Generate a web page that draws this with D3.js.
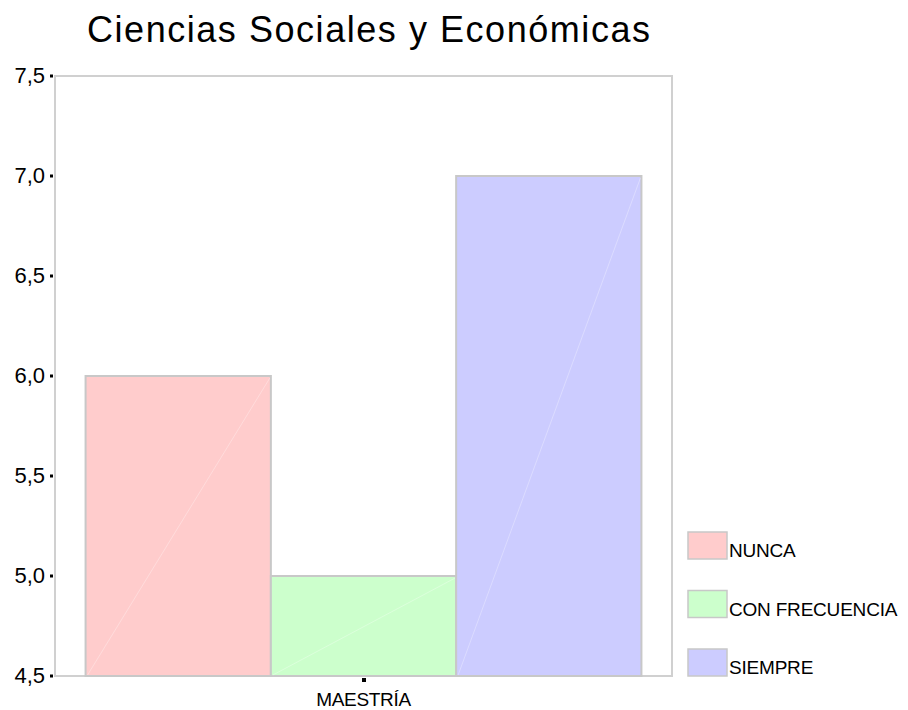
<!DOCTYPE html>
<html>
<head>
<meta charset="utf-8">
<script src="https://cdn.jsdelivr.net/npm/d3@7"></script>
<style>
  body { margin: 0; background: #fff; }
  text { font-family: "Liberation Sans", Arial, sans-serif; fill: #000; }
</style>
</head>
<body>
<svg id="chart" width="908" height="710"></svg>
<script>
// datos del grafico
const categories = ['MAESTRÍA'];
const seriesNames = ['NUNCA', 'CON FRECUENCIA', 'SIEMPRE'];
const seriesValues = [6.0, 5.0, 7.0];
const seriesColors = ['#FFCCCC', '#CCFFCC', '#CCCCFF'];
const yTicks = [4.5, 5.0, 5.5, 6.0, 6.5, 7.0, 7.5];

const svg = d3.select('#chart');
const margin = { left: 55, right: 236, top: 76, bottom: 34 };
const width = 908 - margin.left - margin.right;
const height = 710 - margin.top - margin.bottom;

const g = svg.append('g').attr('transform', `translate(${margin.left},${margin.top})`);

const x0 = d3.scaleBand().domain(categories).range([0, width]).paddingOuter(0.055).paddingInner(0);
const x1 = d3.scaleBand().domain(seriesNames).range([0, x0.bandwidth()]);
const y = d3.scaleLinear().domain([4.5, 7.5]).range([height, 0]);

// titulo
svg.append('text')
    .attr('x', 87).attr('y', 42)
    .attr('font-size', 36)
    .attr('textLength', 563)
    .attr('lengthAdjust', 'spacing')
    .text('Ciencias Sociales y Económicas');

// marco
g.append('rect')
    .attr('width', width).attr('height', height)
    .attr('fill', 'none')
    .attr('stroke', '#d0d0d0')
    .attr('stroke-width', 2);

// barras
const bars = g.selectAll('g.cat')
    .data(categories)
    .enter().append('g')
    .attr('transform', d => `translate(${x0(d)},0)`);

seriesNames.forEach((s, i) => {
    const bx = x1(s), bw = x1.bandwidth();
    const by = y(seriesValues[i]);
    bars.append('rect')
        .attr('x', bx).attr('y', by)
        .attr('width', bw).attr('height', height - by)
        .attr('fill', seriesColors[i])
        .attr('stroke', '#c8c8c8')
        .attr('stroke-width', 2);
    // linea diagonal tenue
    bars.append('line')
        .attr('x1', bx + 2).attr('y1', height - 1)
        .attr('x2', bx + bw - 1).attr('y2', by + 2)
        .attr('stroke', '#ffffff').attr('stroke-opacity', 0.3)
        .attr('stroke-width', 1);
});

// eje y
const yAxis = g.append('g');
yTicks.forEach(t => {
    yAxis.append('rect')
        .attr('x', -5).attr('y', y(t) - 1.5)
        .attr('width', 3).attr('height', 3)
        .attr('fill', '#000');
    yAxis.append('text')
        .attr('x', -10).attr('y', y(t) + 7)
        .attr('text-anchor', 'end')
        .attr('font-size', 22)
        .text(d3.format('.1f')(t).replace('.', ','));
});

// eje x
categories.forEach(c => {
    const cx = x0(c) + x0.bandwidth() / 2;
    g.append('rect')
        .attr('x', cx - 1.5).attr('y', height + 2)
        .attr('width', 4).attr('height', 4)
        .attr('fill', '#000');
    g.append('text')
        .attr('x', cx).attr('y', height + 30)
        .attr('text-anchor', 'middle')
        .attr('font-size', 19)
        .attr('letter-spacing', -0.3)
        .text(c);
});

// leyenda
const legend = svg.append('g').attr('transform', 'translate(688,532)');
seriesNames.forEach((s, i) => {
    const ly = i * 58.5;
    legend.append('rect')
        .attr('x', 0).attr('y', ly)
        .attr('width', 39).attr('height', 27)
        .attr('fill', seriesColors[i])
        .attr('stroke', '#c8c8c8').attr('stroke-width', 1.5);
    legend.append('text')
        .attr('x', 41).attr('y', ly + 25)
        .attr('font-size', 19)
        .attr('letter-spacing', -0.2)
        .text(s);
});
</script>
</body>
</html>
